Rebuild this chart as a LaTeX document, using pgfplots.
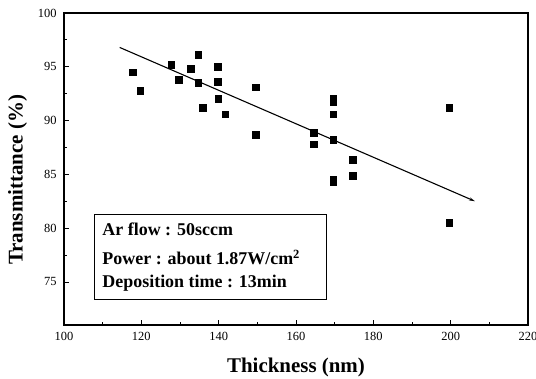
\documentclass[border=0pt]{standalone}
\usepackage{pgfplots}
\pgfplotsset{compat=1.18}
\usepackage{fontspec}
\setmainfont{Liberation Serif}
\usetikzlibrary{arrows.meta}
\begin{document}
\begin{tikzpicture}
\useasboundingbox (-64bp,-54bp) rectangle (472bp,325bp);
\begin{axis}[
  at={(0,0)}, anchor=south west,
  scale only axis, width=464bp, height=312bp,
  xmin=100, xmax=220, ymin=71, ymax=100,
  xtick={100,120,...,220}, ytick={75,80,...,100},
  minor x tick num=1, minor y tick num=1,
  xtick pos=left, ytick pos=left, tick align=inside,
  major tick length=5bp, minor tick length=3bp,
  axis line style={line width=1.1pt},
  tick style={line width=0.8pt, black},
  /pgf/number format/assume math mode=true,
  tick label style={font=\fontsize{12.5}{14}\selectfont},
  yticklabel style={xshift=-4bp},
  xticklabel style={yshift=-4bp},
  xlabel={\textbf{Thickness (nm)}},
  ylabel={\textbf{Transmittance (\%)}},
  label style={font=\fontsize{21}{24}\selectfont},
  xlabel style={at={(axis description cs:0.5,-0.135)}, anchor=center},
  ylabel style={at={(axis description cs:-0.1,0.465)}, anchor=center},
  clip=false,
]
\addplot[only marks, mark=square*, mark size=3.4bp, black] coordinates {
(117.7,94.5) (119.7,92.8) (127.7,95.2) (129.6,93.8) (132.7,94.8)
(134.7,96.1) (134.7,93.5) (135.9,91.2) (139.7,95.0) (139.7,93.6)
(139.9,92.0) (141.7,90.6) (149.6,93.1) (149.6,88.7) (164.6,88.9)
(164.6,87.8) (169.6,92.0) (169.6,91.7) (169.6,90.6) (169.6,88.2)
(169.6,84.5) (169.6,84.3) (174.6,86.4) (174.6,84.9) (199.6,91.2)
(199.6,80.5)
};
\addplot[black, line width=1.1pt, -{Stealth[length=6pt,width=3pt]}] coordinates {(114.4,96.8) (206.3,82.5)};
\draw[line width=0.7pt] (axis cs:107.8,81.3) rectangle (axis cs:167.9,73.4);
\node[anchor=west, font=\fontsize{18}{20}\selectfont\bfseries, inner sep=0pt] at (axis cs:109.9,79.9) {Ar flow : 50sccm};
\node[anchor=west, font=\fontsize{18}{20}\selectfont\bfseries, inner sep=0pt] at (axis cs:109.9,77.3) {Power : about 1.87W/cm$^{\mathbf{2}}$};
\node[anchor=west, font=\fontsize{18}{20}\selectfont\bfseries, inner sep=0pt] at (axis cs:109.9,74.9) {Deposition time : 13min};
\end{axis}
\end{tikzpicture}
\end{document}
